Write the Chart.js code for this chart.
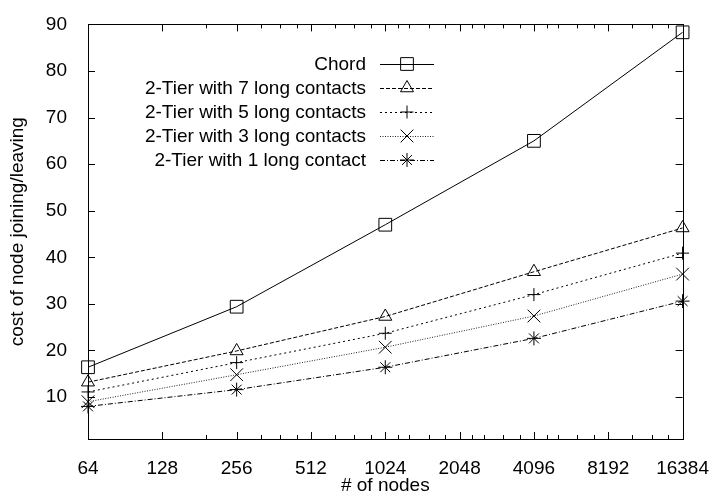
<!DOCTYPE html>
<html>
<head>
<meta charset="utf-8">
<script src="https://cdn.jsdelivr.net/npm/chart.js@4/dist/chart.umd.min.js"></script>
<style>
  html, body { margin: 0; padding: 0; background: #fff; }
  #wrap { width: 719px; height: 499px; position: relative; }
</style>
</head>
<body>
<div id="wrap"><canvas id="chart"></canvas></div>
<script>
// data
const nodes = [64, 256, 1024, 4096, 16384];
const chord = [16.4, 29.4, 47.0, 65.0, 88.3];
const tier7 = [13.2, 19.9, 27.3, 36.9, 46.3];
const tier5 = [11.1, 17.4, 23.7, 32.0, 40.9];
const tier3 = [9.0, 14.8, 20.7, 27.4, 36.4];
const tier1 = [8.0, 11.6, 16.4, 22.6, 30.6];

const xTicks = [64, 128, 256, 512, 1024, 2048, 4096, 8192, 16384];
const xMinorTicks = [192, 320, 384, 448, 640, 768, 896, 1152, 1280, 1536, 1792,
  2304, 2560, 3072, 3584, 4608, 5120, 6144, 7168, 10240, 12288, 14336];
const yTicks = [10, 20, 30, 40, 50, 60, 70, 80, 90];

const FONT = '"Liberation Sans", Arial, sans-serif';
const FSIZE = 19;

const mk = (label, data, style, radius, dash, color) => ({
  label,
  data: nodes.map((n, i) => ({ x: n, y: data[i] })),
  borderColor: color,
  borderWidth: 1,
  borderDash: dash,
  pointStyle: style,
  pointRadius: radius,
  pointBorderColor: '#000',
  pointBackgroundColor: 'rgba(0,0,0,0)',
  pointBorderWidth: 1,
  tension: 0,
  fill: false,
  clip: false,
});

const datasets = [
  mk('Chord', chord, 'rect', 9, [], '#000'),
  mk('2-Tier with 7 long contacts', tier7, 'triangle', 7.5, [4, 2], '#000'),
  mk('2-Tier with 5 long contacts', tier5, 'cross', 6.5, [2, 3], '#000'),
  mk('2-Tier with 3 long contacts', tier3, 'crossRot', 9, [1, 1.5], '#222'),
  mk('2-Tier with 1 long contact', tier1, 'star', 7, [5, 2, 1, 2], '#000'),
];

// frame + inward gnuplot style tick marks
const framePlugin = {
  id: 'frame',
  afterDraw(chart) {
    const { ctx, chartArea: a, scales: { x, y } } = chart;
    ctx.save();
    ctx.strokeStyle = '#000';
    ctx.lineWidth = 1;
    ctx.strokeRect(Math.round(a.left) + 0.5, Math.round(a.top) + 0.5,
      Math.round(a.right - a.left), Math.round(a.bottom - a.top));
    ctx.beginPath();
    const xt = (v, len) => {
      const px = Math.round(x.getPixelForValue(v)) + 0.5;
      ctx.moveTo(px, a.bottom); ctx.lineTo(px, a.bottom - len);
      ctx.moveTo(px, a.top); ctx.lineTo(px, a.top + len);
    };
    xTicks.forEach((v) => xt(v, 7));
    xMinorTicks.forEach((v) => xt(v, 4));
    yTicks.forEach((v) => {
      const py = Math.round(y.getPixelForValue(v)) + 0.5;
      ctx.moveTo(a.left, py); ctx.lineTo(a.left + 7, py);
      ctx.moveTo(a.right, py); ctx.lineTo(a.right - 7, py);
    });
    ctx.stroke();
    ctx.restore();
  },
};

// legend inside the plot: right-aligned text, sample line with marker on the right
const keyPlugin = {
  id: 'key',
  afterDraw(chart) {
    const { ctx } = chart;
    ctx.save();
    ctx.font = FSIZE + 'px ' + FONT;
    ctx.fillStyle = '#000';
    ctx.textAlign = 'right';
    ctx.textBaseline = 'middle';
    chart.data.datasets.forEach((ds, i) => {
      const yy = 64 + i * 24;
      ctx.fillText(ds.label, 366, yy + 1);
      ctx.strokeStyle = ds.borderColor;
      ctx.lineWidth = 1;
      ctx.setLineDash(ds.borderDash);
      ctx.beginPath();
      ctx.moveTo(380, yy + 0.5);
      ctx.lineTo(434, yy + 0.5);
      ctx.stroke();
      ctx.setLineDash([]);
      ctx.strokeStyle = '#000';
      ctx.fillStyle = 'rgba(0,0,0,0)';
      Chart.helpers.drawPoint(ctx, {
        pointStyle: ds.pointStyle, radius: ds.pointRadius, rotation: 0, borderWidth: 1,
      }, 407, yy);
      ctx.fillStyle = '#000';
    });
    ctx.restore();
  },
};

new Chart(document.getElementById('chart'), {
  type: 'line',
  data: { datasets },
  options: {
    responsive: true,
    maintainAspectRatio: false,
    animation: false,
    layout: { padding: { left: 0, right: 32, top: 17, bottom: 0 } },
    plugins: { legend: { display: false }, tooltip: { enabled: false } },
    scales: {
      x: {
        type: 'logarithmic',
        min: 64,
        max: 16384,
        afterBuildTicks: (s) => { s.ticks = xTicks.map((v) => ({ value: v })); },
        afterFit: (s) => { s.height = 60; },
        grid: { display: false },
        border: { display: false },
        ticks: {
          color: '#000', font: { family: FONT, size: FSIZE }, padding: 10,
          maxRotation: 0, autoSkip: false, callback: (v) => String(v),
        },
        title: { display: true, text: '# of nodes', color: '#000', font: { family: FONT, size: FSIZE }, padding: { top: 0, bottom: 2 } },
      },
      y: {
        type: 'linear',
        min: 1,
        max: 90,
        afterBuildTicks: (s) => { s.ticks = yTicks.map((v) => ({ value: v })); },
        afterFit: (s) => { s.width = 88; },
        grid: { display: false },
        border: { display: false },
        ticks: { color: '#000', font: { family: FONT, size: FSIZE }, padding: 13 },
        title: { display: true, text: 'cost of node joining/leaving', color: '#000', font: { family: FONT, size: FSIZE }, padding: { top: 6 } },
      },
    },
  },
  plugins: [framePlugin, keyPlugin],
});
</script>
</body>
</html>
